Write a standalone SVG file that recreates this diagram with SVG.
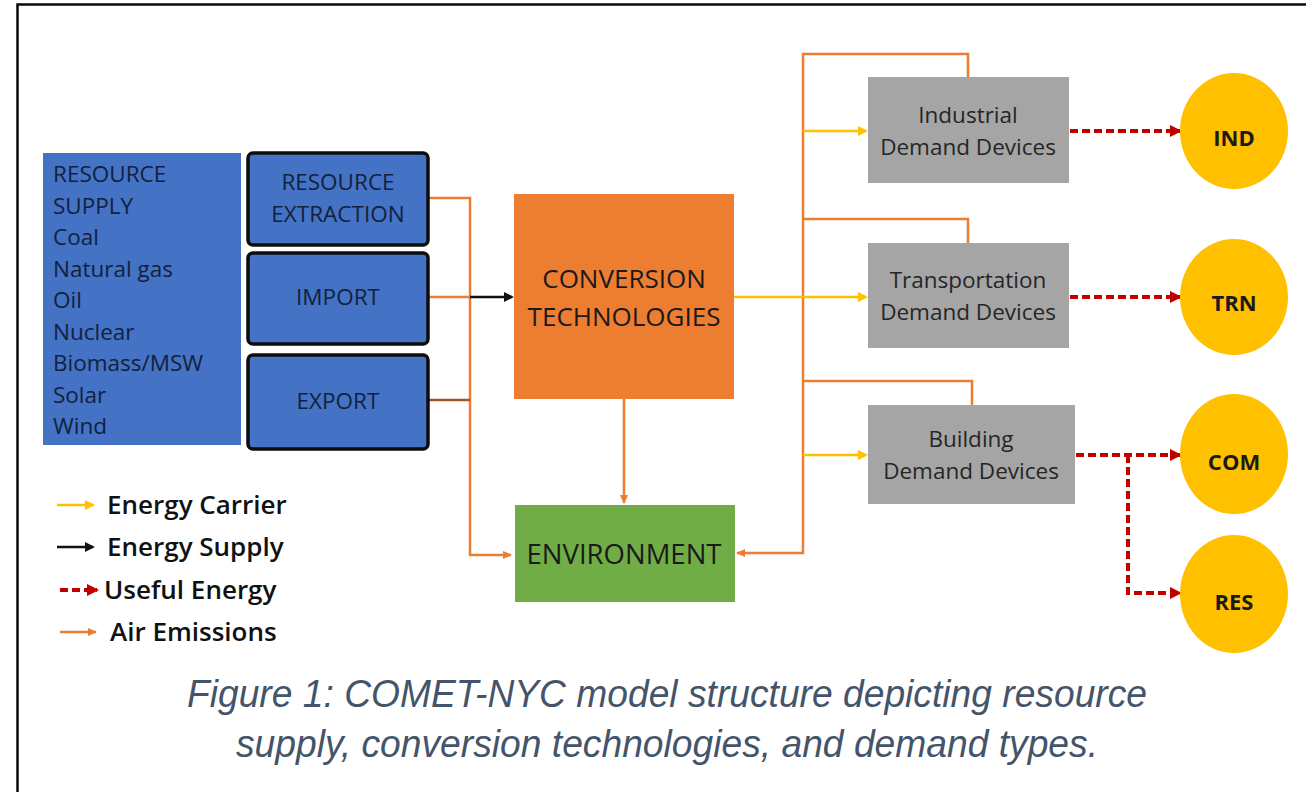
<svg xmlns="http://www.w3.org/2000/svg" width="1306" height="792" viewBox="0 0 1306 792">
  <defs>
    <style>
      .src { font-family: "Open Sans", "Liberation Sans", sans-serif; font-size: 22.5px; fill: #13213d; }
      .srcb { font-family: "Open Sans", "Liberation Sans", sans-serif; font-size: 22.5px; fill: #13213d; text-anchor: middle; }
      .big { font-family: "Open Sans", "Liberation Sans", sans-serif; fill: #1a1a1a; text-anchor: middle; }
      .dev { font-family: "Open Sans", "Liberation Sans", sans-serif; font-size: 22.5px; fill: #262626; text-anchor: middle; }
      .dem { font-family: "Open Sans", "Liberation Sans", sans-serif; font-size: 22px; font-weight: bold; fill: #1a1a1a; text-anchor: middle; }
      .leg { font-family: "Open Sans", "Liberation Sans", sans-serif; font-size: 26px; font-weight: 600; fill: #111; }
      .cap { font-family: "Liberation Sans", Arial, sans-serif; font-size: 38px; font-style: italic; fill: #44546a; text-anchor: middle; }
      .air { stroke: #ed7d31; stroke-width: 2.5; fill: none; }
      .carrier { stroke: #ffc000; stroke-width: 2.5; fill: none; }
      .supply { stroke: #111; stroke-width: 2.5; fill: none; }
      .useful { stroke: #c00000; stroke-width: 4; fill: none; stroke-dasharray: 8 4; }
      .blue { fill: #4472c4; }
      .bluebox { fill: #4472c4; stroke: #0d0d0d; stroke-width: 3.5; }
      .grey { fill: #a5a5a5; }
      .circ { fill: #ffc000; }
    </style>
    <marker id="mAir" markerWidth="10" markerHeight="10" refX="8" refY="5" orient="auto" markerUnits="userSpaceOnUse">
      <path d="M0,1 L9,5 L0,9 z" fill="#ed7d31"/>
    </marker>
    <marker id="mCarrier" markerWidth="10" markerHeight="12" refX="8" refY="6" orient="auto" markerUnits="userSpaceOnUse">
      <path d="M0,1 L10,6 L0,11 z" fill="#ffc000"/>
    </marker>
    <marker id="mSupply" markerWidth="10" markerHeight="12" refX="8" refY="6" orient="auto" markerUnits="userSpaceOnUse">
      <path d="M0,1 L10,6 L0,11 z" fill="#111"/>
    </marker>
    <marker id="mUseful" markerWidth="12" markerHeight="14" refX="10" refY="7" orient="auto" markerUnits="userSpaceOnUse">
      <path d="M0,1 L12,7 L0,13 z" fill="#c00000"/>
    </marker>
  </defs>

  <rect width="1306" height="792" fill="#ffffff"/>

  <!-- frame -->
  <path d="M17.5,792 L17.5,4.5 L1306,4.5" fill="none" stroke="#0a0a0a" stroke-width="2.5"/>

  <!-- connectors -->
  <g id="connectors">
    <!-- supply side emissions bus -->
    <path class="air" d="M429,198 L470,198 L470,555 L511,555" marker-end="url(#mAir)"/>
    <path class="air" d="M429,297 L470,297"/>
    <path d="M429,400 L470,400" fill="none" stroke="#a0522d" stroke-width="2.5"/>
    <path class="supply" d="M470,297 L512,297" marker-end="url(#mSupply)"/>
    <!-- conversion to environment -->
    <path class="air" d="M624,399 L624,503" marker-end="url(#mAir)"/>
    <!-- demand side emissions bus -->
    <path class="air" d="M968,77 L968,54 L803,54 L803,553 L737,553" marker-end="url(#mAir)"/>
    <path class="air" d="M968,243 L968,219 L803,219"/>
    <path class="air" d="M972,405 L972,381 L803,381"/>
    <!-- energy carriers -->
    <path class="carrier" d="M734,297 L866,297" marker-end="url(#mCarrier)"/>
    <path class="carrier" d="M803,131 L866,131" marker-end="url(#mCarrier)"/>
    <path class="carrier" d="M803,455 L866,455" marker-end="url(#mCarrier)"/>
    <!-- useful energy -->
    <path class="useful" d="M1070,131 L1180,131" marker-end="url(#mUseful)"/>
    <path class="useful" d="M1070,297 L1180,297" marker-end="url(#mUseful)"/>
    <path class="useful" d="M1076,455 L1180,455" marker-end="url(#mUseful)"/>
    <path class="useful" d="M1128,455 L1128,593 L1180,593" marker-end="url(#mUseful)"/>
  </g>

  <g id="resource-supply">
    <rect class="blue" x="43" y="153" width="198" height="292"/>
    <text class="src" x="53" y="182">RESOURCE</text>
    <text class="src" x="53" y="214">SUPPLY</text>
    <text class="src" x="53" y="245">Coal</text>
    <text class="src" x="53" y="277">Natural gas</text>
    <text class="src" x="53" y="308">Oil</text>
    <text class="src" x="53" y="340">Nuclear</text>
    <text class="src" x="53" y="371">Biomass/MSW</text>
    <text class="src" x="53" y="403">Solar</text>
    <text class="src" x="53" y="434">Wind</text>
  </g>

  <g id="resource-extraction">
    <rect class="bluebox" x="248" y="153" width="180" height="92" rx="5"/>
    <text class="srcb" x="338" y="190">RESOURCE</text>
    <text class="srcb" x="338" y="222">EXTRACTION</text>
  </g>

  <g id="import">
    <rect class="bluebox" x="248" y="253" width="180" height="91" rx="5"/>
    <text class="srcb" x="338" y="305">IMPORT</text>
  </g>

  <g id="export">
    <rect class="bluebox" x="248" y="355" width="180" height="94" rx="5"/>
    <text class="srcb" x="338" y="409">EXPORT</text>
  </g>

  <g id="conversion">
    <rect x="514" y="194" width="220" height="205" fill="#ed7d31"/>
    <text class="big" x="624" y="288" font-size="26">CONVERSION</text>
    <text class="big" x="624" y="326" font-size="26">TECHNOLOGIES</text>
  </g>

  <g id="environment">
    <rect x="515" y="505" width="220" height="97" fill="#70ad47"/>
    <text class="big" x="624" y="564" font-size="27.5">ENVIRONMENT</text>
  </g>

  <g id="industrial">
    <rect class="grey" x="868" y="77" width="201" height="106"/>
    <text class="dev" x="968" y="123">Industrial</text>
    <text class="dev" x="968" y="155">Demand Devices</text>
  </g>

  <g id="transportation">
    <rect class="grey" x="868" y="243" width="201" height="105"/>
    <text class="dev" x="968" y="288">Transportation</text>
    <text class="dev" x="968" y="320">Demand Devices</text>
  </g>

  <g id="building">
    <rect class="grey" x="868" y="405" width="207" height="99"/>
    <text class="dev" x="971" y="447">Building</text>
    <text class="dev" x="971" y="479">Demand Devices</text>
  </g>

  <g id="ind">
    <ellipse class="circ" cx="1234" cy="131" rx="54" ry="58"/>
    <text class="dem" x="1234" y="146">IND</text>
  </g>
  <g id="trn">
    <ellipse class="circ" cx="1234" cy="297" rx="54" ry="58"/>
    <text class="dem" x="1234" y="311">TRN</text>
  </g>
  <g id="com">
    <ellipse class="circ" cx="1234" cy="454" rx="54" ry="60"/>
    <text class="dem" x="1234" y="470">COM</text>
  </g>
  <g id="res">
    <ellipse class="circ" cx="1234" cy="594" rx="54" ry="59"/>
    <text class="dem" x="1234" y="610">RES</text>
  </g>

  <g id="legend">
    <path class="carrier" d="M57,505 L93,505" stroke-width="2" marker-end="url(#mCarrier)"/>
    <text class="leg" x="107" y="514">Energy Carrier</text>
    <path class="supply" d="M57,547 L93,547" stroke-width="2" marker-end="url(#mSupply)"/>
    <text class="leg" x="107" y="556">Energy Supply</text>
    <path class="useful" d="M60,590 L97,590" stroke-width="3" stroke-dasharray="5 3" marker-end="url(#mUseful)"/>
    <text class="leg" x="104" y="599">Useful Energy</text>
    <path class="air" d="M60,632 L96,632" stroke-width="2" marker-end="url(#mAir)"/>
    <text class="leg" x="110" y="641">Air Emissions</text>
  </g>

  <g id="caption">
    <text class="cap" x="667" y="707" textLength="960" lengthAdjust="spacingAndGlyphs">Figure 1: COMET-NYC model structure depicting resource</text>
    <text class="cap" x="667" y="757" textLength="862" lengthAdjust="spacingAndGlyphs">supply, conversion technologies, and demand types.</text>
  </g>
</svg>
